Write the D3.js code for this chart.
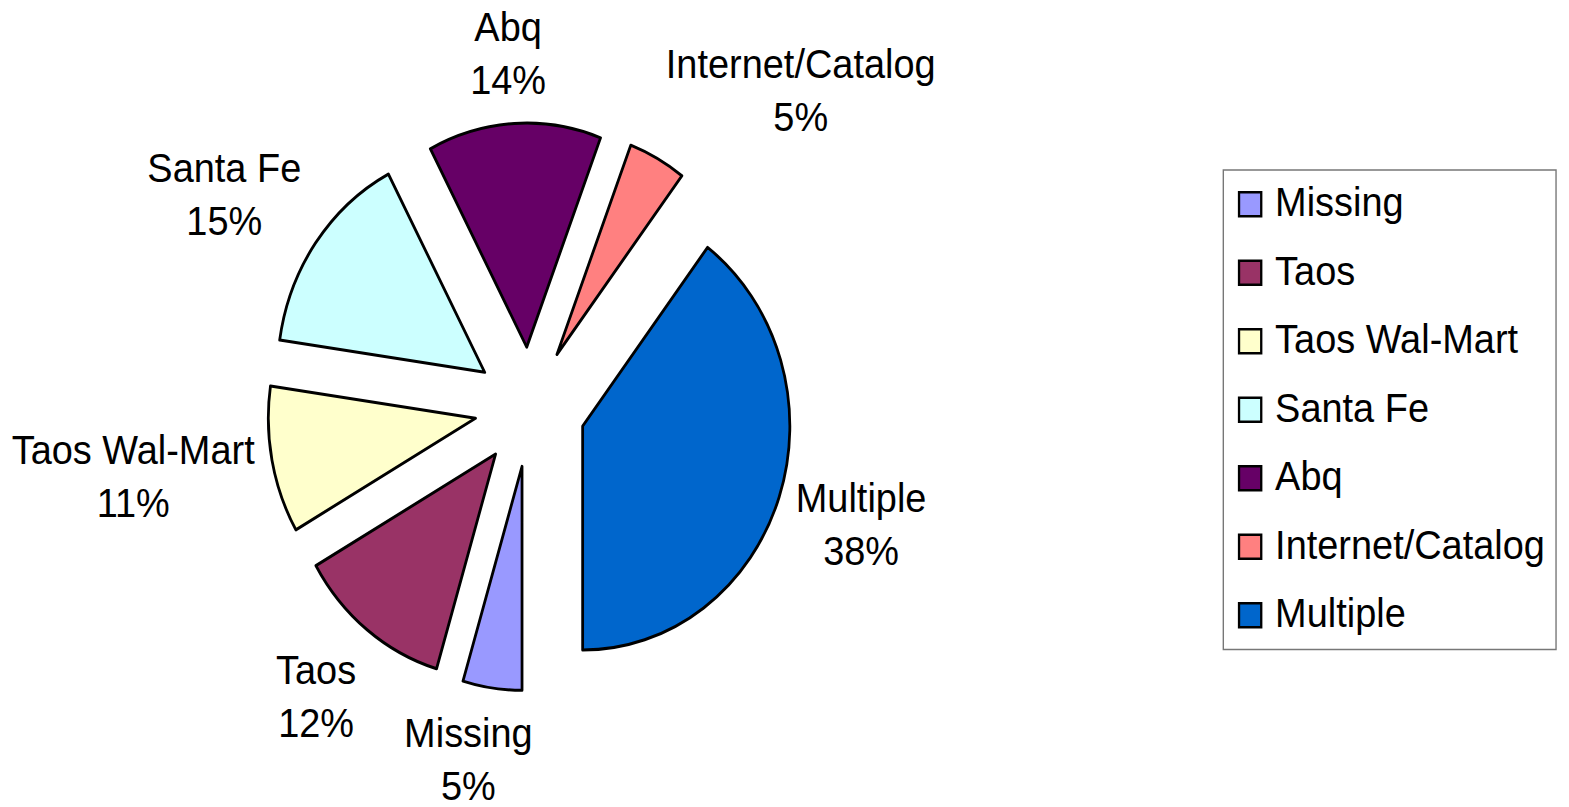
<!DOCTYPE html>
<html>
<head>
<meta charset="utf-8">
<style>
  body { margin: 0; background: #fff; }
  svg { display: block; }
  text {
    font-family: "Liberation Sans", Arial, sans-serif;
    font-size: 41px;
    fill: #000;
  }
  .slice { stroke: #000; stroke-width: 3px; stroke-linejoin: round; }
  .swatch { stroke: #000; stroke-width: 2.5px; }
  .legendbox { fill: #fff; stroke: #777; stroke-width: 1.5px; }
</style>
</head>
<body>
<div id="chart"></div>
<script src="https://cdn.jsdelivr.net/npm/d3@7/dist/d3.min.js"></script>
<script>
  // slices in drawing order (clockwise, starting at 6 o'clock)
  const categories = ["Missing", "Taos", "Taos Wal-Mart", "Santa Fe", "Abq", "Internet/Catalog", "Multiple"];
  // shares
  const shares = [4.6, 12.1, 10.6, 15.0, 13.5, 4.5, 39.7];
  // percentages as printed on the chart
  const percentLabels = ["5%", "12%", "11%", "15%", "14%", "5%", "38%"];
  const colors = ["#9999ff", "#993366", "#ffffcc", "#ccffff", "#660066", "#ff8080", "#0066cc"];

  const width = 1569, height = 807;
  // the whole picture is a little narrower than tall
  const squeeze = 0.925;
  const cx = 573, cy = 407, radius = 224, explode = 60;
  const labelRadius = 303, lineGap = 53;

  const svg = d3.select("#chart").append("svg")
    .attr("width", width)
    .attr("height", height);

  svg.append("rect")
    .attr("width", width).attr("height", height)
    .attr("fill", "#fff");

  const root = svg.append("g")
    .attr("transform", `scale(${squeeze},1)`);

  const pie = d3.pie()
    .sort(null)
    .value(d => d)
    .startAngle(Math.PI)
    .endAngle(3 * Math.PI);

  const arcs = pie(shares);

  const arc = d3.arc()
    .innerRadius(0)
    .outerRadius(radius);

  const mid = d => (d.startAngle + d.endAngle) / 2;

  // exploded slices
  const pieG = root.append("g")
    .attr("transform", `translate(${cx},${cy})`);

  pieG.selectAll(".slice")
    .data(arcs)
    .enter().append("path")
    .attr("class", "slice")
    .attr("fill", (d, i) => colors[i])
    .attr("transform", d => {
      let a = mid(d);
      return `translate(${explode * Math.sin(a)},${-explode * Math.cos(a)})`;
    })
    .attr("d", arc);

  // data labels: name + percentage
  const clamp = v => Math.max(-1, Math.min(1, v));
  const labels = pieG.selectAll(".label")
    .data(arcs)
    .enter().append("g")
    .attr("class", "label");

  labels.append("text")
    .attr("class", "name")
    .attr("text-anchor", "middle")
    .text((d, i) => categories[i]);
  labels.append("text")
    .attr("class", "pct")
    .attr("text-anchor", "middle")
    .text((d, i) => percentLabels[i]);

  labels.each(function (d) {
    let g = d3.select(this);
    let w = Math.max(g.select(".name").node().getComputedTextLength(),
      g.select(".pct").node().getComputedTextLength());
    let hw = w / 2, hh = 52;
    let a = mid(d);
    let s = Math.sin(a), c = Math.cos(a);
    // push the label box outward so its near side sits on the label radius
    let x = labelRadius * s + hw * clamp(2.3 * s);
    let y = -labelRadius * c - hh * clamp(1.25 * c);
    g.select(".name").attr("x", x).attr("y", y - 12);
    g.select(".pct").attr("x", x).attr("y", y - 12 + lineGap);
  });

  // legend
  const legendX = 1322.5, legendY = 170, rowH = 68.5;
  const legend = root.append("g")
    .attr("transform", `translate(${legendX},${legendY})`);

  const box = legend.append("rect")
    .attr("class", "legendbox")
    .attr("height", rowH * categories.length);

  const rows = legend.selectAll(".row")
    .data(categories)
    .enter().append("g")
    .attr("class", "row")
    .attr("transform", (d, i) => `translate(0,${rowH * (i + 0.5)})`);

  rows.append("rect")
    .attr("class", "swatch")
    .attr("x", 17)
    .attr("y", -12)
    .attr("width", 24)
    .attr("height", 24)
    .attr("fill", (d, i) => colors[i]);

  rows.append("text")
    .attr("x", 56)
    .attr("y", 12)
    .text(d => d);

  let maxText = d3.max(rows.selectAll("text").nodes(), n => n.getComputedTextLength());
  box.attr("width", 56 + maxText + 12);
</script>
</body>
</html>
